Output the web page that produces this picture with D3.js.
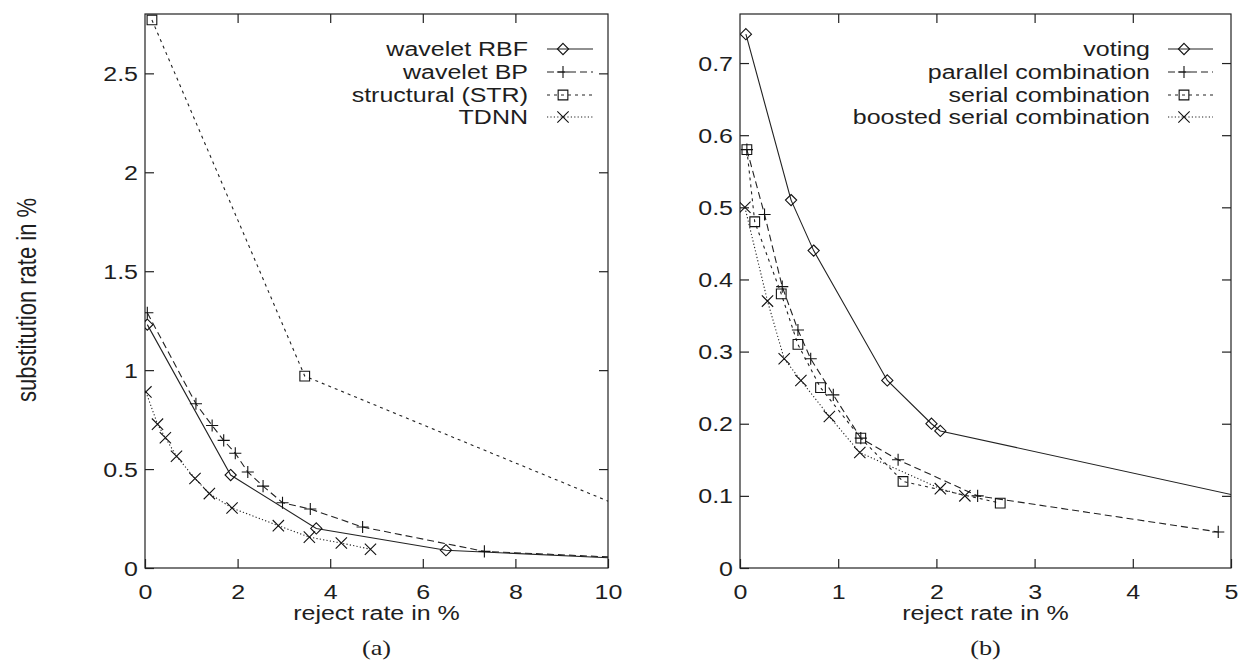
<!DOCTYPE html>
<html>
<head>
<meta charset="utf-8">
<script src="https://cdn.jsdelivr.net/npm/d3@7/dist/d3.min.js"></script>
<style>
body { margin: 0; background: #fff; }
text { font-family: "Liberation Sans", Arial, sans-serif; fill: #1e1e1e; }
</style>
</head>
<body>
<div id="chart"></div>
<script>
// ---- panel (a) data ----
const xTicksA = [0, 2, 4, 6, 8, 10];
const yTicksA = [0, 0.5, 1, 1.5, 2, 2.5];
const namesA = ["wavelet RBF", "wavelet BP", "structural (STR)", "TDNN"];

const rbfX = [0.05, 1.85, 3.7, 6.5, 10.6];
const rbfY = [1.23, 0.47, 0.2, 0.09, 0.045];
const bpX = [0.05, 1.1, 1.45, 1.7, 1.95, 2.22, 2.55, 2.97, 3.57, 4.7, 7.33, 10.6];
const bpY = [1.29, 0.83, 0.72, 0.645, 0.58, 0.485, 0.414, 0.33, 0.298, 0.207, 0.084, 0.05];
const strX = [0.15, 3.45, 10.6];
const strY = [2.77, 0.97, 0.28];
const tdnnX = [0.02, 0.27, 0.44, 0.68, 1.08, 1.39, 1.88, 2.88, 3.55, 4.24, 4.87];
const tdnnY = [0.89, 0.727, 0.658, 0.565, 0.452, 0.376, 0.303, 0.214, 0.156, 0.126, 0.095];

// ---- panel (b) data ----
const xTicksB = [0, 1, 2, 3, 4, 5];
const yTicksB = [0, 0.1, 0.2, 0.3, 0.4, 0.5, 0.6, 0.7];
const namesB = ["voting", "parallel combination", "serial combination", "boosted serial combination"];

const votingX = [0.06, 0.52, 0.75, 1.5, 1.95, 2.04, 5.5];
const votingY = [0.74, 0.51, 0.44, 0.26, 0.2, 0.19, 0.087];
const parallelX = [0.07, 0.25, 0.43, 0.59, 0.72, 0.95, 1.23, 1.61, 2.42, 4.87];
const parallelY = [0.58, 0.49, 0.39, 0.33, 0.29, 0.24, 0.18, 0.15, 0.1, 0.05];
const serialX = [0.07, 0.15, 0.42, 0.59, 0.82, 1.23, 1.66, 2.65];
const serialY = [0.58, 0.48, 0.38, 0.31, 0.25, 0.18, 0.12, 0.09];
const boostedX = [0.05, 0.28, 0.45, 0.62, 0.91, 1.22, 2.04, 2.29];
const boostedY = [0.5, 0.37, 0.29, 0.26, 0.21, 0.16, 0.11, 0.1];

const SX = 1.25; // the scanned figure is stretched sideways
const W = 1239, H = 664;

var svg = d3.select("#chart").append("svg")
    .attr("width", W)
    .attr("height", H)
    .style("display", "block");

svg.append("rect").attr("width", W).attr("height", H).attr("fill", "#fff");

const styles = [
    {dash: null, marker: d3.symbolDiamond2, size: 80},
    {dash: "7,4", marker: d3.symbolPlus, size: 50},
    {dash: "3,4", marker: d3.symbolSquare2, size: 120},
    {dash: "1.2,2.2", marker: d3.symbolTimes, size: 85}
];

function zipPts(xs, ys) {
    return xs.map(function (d, i) { return [d, ys[i]]; });
}

function drawPanel(p) {
    let xScale = d3.scaleLinear().domain(p.xDomain).range([p.left, p.right]);
    let yScale = d3.scaleLinear().domain(p.yDomain).range([p.bottom, p.top]);
    let g = svg.append("g");

    let clipId = "clip" + p.id;
    svg.append("clipPath").attr("id", clipId)
        .append("rect")
        .attr("x", p.left).attr("y", p.top - 8)
        .attr("width", p.right - p.left).attr("height", p.bottom - p.top + 8);

    // axes with inward ticks on all four sides
    let bottom = g.append("g")
        .attr("transform", `translate(0,${p.bottom})`)
        .call(d3.axisBottom(xScale).tickValues(p.xTicks).tickSizeInner(-9).tickSizeOuter(0).tickFormat(d => String(d)));
    bottom.selectAll("text")
        .attr("y", null).attr("dy", null)
        .attr("transform", `translate(0,31) scale(${SX},1)`);

    let left = g.append("g")
        .attr("transform", `translate(${p.left},0)`)
        .call(d3.axisLeft(yScale).tickValues(p.yTicks).tickSizeInner(-9).tickSizeOuter(0).tickFormat(d => String(d)));
    left.selectAll("text")
        .attr("x", null).attr("dy", null)
        .attr("transform", `translate(-7,7) scale(${SX},1)`);

    g.append("g")
        .attr("transform", `translate(0,${p.top})`)
        .call(d3.axisTop(xScale).tickValues(p.xTicks.slice(1, -1)).tickSizeInner(-9).tickSizeOuter(0).tickFormat(""));
    g.append("g")
        .attr("transform", `translate(${p.right},0)`)
        .call(d3.axisRight(yScale).tickValues(p.yTicks.slice(1)).tickSizeInner(-9).tickSizeOuter(0).tickFormat(""));

    g.selectAll(".domain").remove();
    g.selectAll(".tick line").attr("stroke", "#222").attr("stroke-width", 1.2);
    g.selectAll(".tick text").attr("font-size", 20).attr("font-family", null).attr("fill", "#1e1e1e");

    g.append("rect")
        .attr("x", p.left).attr("y", p.top)
        .attr("width", p.right - p.left).attr("height", p.bottom - p.top)
        .attr("fill", "none").attr("stroke", "#222").attr("stroke-width", 1.2);

    // series
    let line = d3.line()
        .x(d => xScale(d[0]))
        .y(d => yScale(d[1]));

    let plot = g.append("g").attr("clip-path", `url(#${clipId})`);

    p.series.forEach(function (s, i) {
        let st = styles[i];
        let pts = zipPts(s.xs, s.ys);
        plot.append("path")
            .attr("d", line(pts))
            .attr("fill", "none")
            .attr("stroke", "#222")
            .attr("stroke-width", 1.1)
            .attr("stroke-dasharray", st.dash);
        plot.selectAll(".m" + i)
            .data(pts)
            .join("path")
            .attr("class", "m" + i)
            .attr("d", d3.symbol().type(st.marker).size(st.size))
            .attr("transform", d => `translate(${xScale(d[0])},${yScale(d[1])})`)
            .attr("fill", "none")
            .attr("stroke", "#111")
            .attr("stroke-width", 1.1);
    });

    // legend
    let rowY = [49, 72, 95, 117];
    p.series.forEach(function (s, i) {
        let st = styles[i];
        g.append("text")
            .attr("text-anchor", "end")
            .attr("font-size", 20)
            .attr("transform", `translate(${p.legendRight},${rowY[i] + 7}) scale(${SX},1)`)
            .text(s.name);
        g.append("line")
            .attr("x1", p.sample[0]).attr("x2", p.sample[1])
            .attr("y1", rowY[i]).attr("y2", rowY[i])
            .attr("stroke", "#222").attr("stroke-width", 1.1)
            .attr("stroke-dasharray", st.dash);
        g.append("path")
            .attr("d", d3.symbol().type(st.marker).size(st.size))
            .attr("transform", `translate(${p.sample[0] + 16},${rowY[i]})`)
            .attr("fill", "none").attr("stroke", "#111").attr("stroke-width", 1.1);
    });

    // axis title and caption
    g.append("text")
        .attr("text-anchor", "middle")
        .attr("font-size", 20)
        .attr("transform", `translate(${(p.left + p.right) / 2},620) scale(${SX},1)`)
        .text("reject rate in %");

    g.append("text")
        .attr("text-anchor", "middle")
        .attr("font-size", 21)
        .style("font-family", "'Liberation Serif', 'DejaVu Serif', serif")
        .attr("transform", `translate(${(p.left + p.right) / 2},655) scale(${SX},1)`)
        .text(p.caption);
}

drawPanel({
    id: "a", left: 145, right: 608, top: 14, bottom: 568,
    xDomain: [0, 10], yDomain: [0, 2.8],
    xTicks: xTicksA, yTicks: yTicksA,
    series: [
        {name: namesA[0], xs: rbfX, ys: rbfY},
        {name: namesA[1], xs: bpX, ys: bpY},
        {name: namesA[2], xs: strX, ys: strY},
        {name: namesA[3], xs: tdnnX, ys: tdnnY}
    ],
    legendRight: 528, sample: [547, 593], caption: "(a)"
});

drawPanel({
    id: "b", left: 740, right: 1231, top: 14, bottom: 568,
    xDomain: [0, 5], yDomain: [0, 0.768],
    xTicks: xTicksB, yTicks: yTicksB,
    series: [
        {name: namesB[0], xs: votingX, ys: votingY},
        {name: namesB[1], xs: parallelX, ys: parallelY},
        {name: namesB[2], xs: serialX, ys: serialY},
        {name: namesB[3], xs: boostedX, ys: boostedY}
    ],
    legendRight: 1150, sample: [1168, 1213], caption: "(b)"
});

// y axis title, only on the left panel
svg.append("text")
    .attr("text-anchor", "middle")
    .attr("font-size", 22)
    .attr("transform", `translate(36,300) scale(${SX},1) rotate(-90)`)
    .text("substitution rate in %");
</script>
</body>
</html>
